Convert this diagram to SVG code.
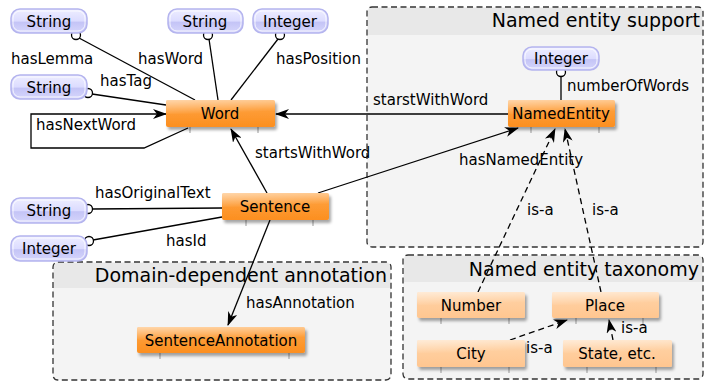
<svg xmlns="http://www.w3.org/2000/svg" width="715" height="381" viewBox="0 0 715 381">
<style>
text{font-family:"DejaVu Sans","Liberation Sans",sans-serif;font-size:15px;fill:#000}
.title{font-size:19px}
.nt{text-anchor:middle}
.grp{fill:#f4f4f4;stroke:#333;stroke-width:1.3;stroke-dasharray:6,3.5}
.hdr{fill:#e8e8e8}
.edge{fill:none;stroke:#000;stroke-width:1.3}
.dash{stroke-dasharray:6,4}
.circ{fill:#fff;stroke:#000;stroke-width:1.3}
.ob{fill:url(#og)}
.lb{fill:url(#lg)}
.hl{fill:url(#hg)}
.tick{stroke:#999;stroke-width:1}
.lit{fill:url(#litg);stroke:#b4b4ee;stroke-width:1.5}
.lit2{fill:none;stroke:#fff;stroke-width:1;opacity:.8}
</style>
<defs>
<linearGradient id="og" x1="0" y1="0" x2="0" y2="1"><stop offset="0" stop-color="#ffa545"/><stop offset="1" stop-color="#fc8f20"/></linearGradient>
<linearGradient id="lg" x1="0" y1="0" x2="0" y2="1"><stop offset="0" stop-color="#ffd4a8"/><stop offset="1" stop-color="#ffc690"/></linearGradient>
<linearGradient id="hg" x1="0" y1="0" x2="0.3" y2="1"><stop offset="0" stop-color="#fff" stop-opacity="0.55"/><stop offset="1" stop-color="#fff" stop-opacity="0"/></linearGradient>
<linearGradient id="litg" x1="0" y1="0" x2="0" y2="1"><stop offset="0" stop-color="#eeeeff"/><stop offset="0.5" stop-color="#dcdcff"/><stop offset="0.55" stop-color="#c4c4f6"/><stop offset="1" stop-color="#d6d6fc"/></linearGradient>
<filter id="sh" x="-10%" y="-20%" width="130%" height="160%"><feGaussianBlur in="SourceAlpha" stdDeviation="1.5"/><feOffset dx="2" dy="3"/><feComponentTransfer><feFuncA type="linear" slope="0.35"/></feComponentTransfer><feMerge><feMergeNode/><feMergeNode in="SourceGraphic"/></feMerge></filter>
<marker id="ar" viewBox="0 0 14 10" refX="13" refY="5" markerWidth="14" markerHeight="10" markerUnits="userSpaceOnUse" orient="auto"><path d="M0,0 L14,5 L0,10 L4,5 z" fill="#000"/></marker>
</defs>

<g id="group-ne-support">
<rect class="grp" x="367" y="7" width="336" height="240" rx="5"/>
<path class="hdr" d="M368,35 V12 a4,4 0 0 1 4,-4 H698 a4,4 0 0 1 4,4 V35 z"/>
<text class="title" x="700" y="27" text-anchor="end">Named entity support</text>
</g>
<g id="group-domain">
<rect class="grp" x="53" y="262" width="338" height="118" rx="5"/>
<path class="hdr" d="M54,288 V267 a4,4 0 0 1 4,-4 H386 a4,4 0 0 1 4,4 V288 z"/>
<text class="title" x="387" y="282" text-anchor="end">Domain-dependent annotation</text>
</g>
<g id="group-taxonomy">
<rect class="grp" x="403" y="255" width="300" height="124" rx="5"/>
<path class="hdr" d="M404,282 V260 a4,4 0 0 1 4,-4 H698 a4,4 0 0 1 4,4 V282 z"/>
<text class="title" x="699" y="276" text-anchor="end">Named entity taxonomy</text>
</g>

<g id="connectors">
<line class="edge" x1="79" y1="38" x2="195" y2="100"/>
<line class="edge" x1="209" y1="39" x2="218" y2="100"/>
<line class="edge" x1="278" y1="39" x2="231" y2="100"/>
<line class="edge" x1="92" y1="94" x2="166" y2="105"/>
<path class="edge" d="M188,128 L144,148 H31 V114 H166" marker-end="url(#ar)"/>
<line class="edge" x1="508" y1="114" x2="276" y2="114" marker-end="url(#ar)"/>
<line class="edge" x1="561" y1="76" x2="561" y2="100"/>
<line class="edge" x1="267" y1="193" x2="231" y2="129" marker-end="url(#ar)"/>
<line class="edge" x1="318" y1="193" x2="518" y2="128" marker-end="url(#ar)"/>
<line class="edge" x1="92" y1="209" x2="222" y2="208"/>
<line class="edge" x1="93" y1="240" x2="222" y2="217"/>
<line class="edge" x1="270" y1="220" x2="228" y2="325" marker-end="url(#ar)"/>
<line class="edge dash" x1="478" y1="292" x2="555" y2="129" marker-end="url(#ar)"/>
<line class="edge dash" x1="601" y1="292" x2="565" y2="129" marker-end="url(#ar)"/>
<line class="edge dash" x1="510" y1="340" x2="567" y2="320" marker-end="url(#ar)"/>
<line class="edge dash" x1="613" y1="340" x2="609" y2="320" marker-end="url(#ar)"/>
<circle class="circ" cx="76" cy="35" r="4.5"/>
<circle class="circ" cx="208" cy="35" r="4.5"/>
<circle class="circ" cx="280" cy="35" r="4.5"/>
<circle class="circ" cx="88" cy="93" r="4.5"/>
<circle class="circ" cx="561" cy="72" r="4.5"/>
<circle class="circ" cx="88" cy="209" r="4.5"/>
<circle class="circ" cx="89" cy="241" r="4.5"/>
<text x="11" y="64">hasLemma</text>
<text x="138" y="64">hasWord</text>
<text x="276" y="64">hasPosition</text>
<text x="100" y="86">hasTag</text>
<text x="36" y="130">hasNextWord</text>
<text x="373" y="105">starstWithWord</text>
<text x="567" y="91">numberOfWords</text>
<text x="255" y="158">startsWithWord</text>
<text x="459" y="165">hasNamedEntity</text>
<text x="527" y="215">is-a</text>
<text x="592" y="215">is-a</text>
<text x="95" y="198">hasOriginalText</text>
<text x="166" y="246">hasId</text>
<text x="246" y="308">hasAnnotation</text>
<text x="526" y="353">is-a</text>
<text x="621" y="333">is-a</text>
</g>

<g id="lit-string-lemma"><rect class="lit" x="11" y="9" width="76" height="24" rx="9"/><rect class="lit2" x="13" y="11" width="72" height="20" rx="7"/><text class="nt" x="49" y="27">String</text></g>
<g id="lit-string-word"><rect class="lit" x="168" y="9" width="75" height="24" rx="9"/><rect class="lit2" x="170" y="11" width="71" height="20" rx="7"/><text class="nt" x="205" y="27">String</text></g>
<g id="lit-integer-position"><rect class="lit" x="253" y="9" width="75" height="24" rx="9"/><rect class="lit2" x="255" y="11" width="71" height="20" rx="7"/><text class="nt" x="290" y="27">Integer</text></g>
<g id="lit-string-tag"><rect class="lit" x="11" y="75" width="76" height="24" rx="9"/><rect class="lit2" x="13" y="77" width="72" height="20" rx="7"/><text class="nt" x="49" y="93">String</text></g>
<g id="lit-integer-words"><rect class="lit" x="523" y="47" width="76" height="23" rx="9"/><rect class="lit2" x="525" y="49" width="72" height="19" rx="7"/><text class="nt" x="561" y="64">Integer</text></g>
<g id="lit-string-text"><rect class="lit" x="11" y="198" width="76" height="25" rx="9"/><rect class="lit2" x="13" y="200" width="72" height="21" rx="7"/><text class="nt" x="49" y="216">String</text></g>
<g id="lit-integer-id"><rect class="lit" x="11" y="236" width="76" height="25" rx="9"/><rect class="lit2" x="13" y="238" width="72" height="21" rx="7"/><text class="nt" x="49" y="254">Integer</text></g>

<g id="node-word"><line class="tick" x1="190" y1="127" x2="190" y2="133"/><line class="tick" x1="258" y1="127" x2="258" y2="133"/><rect class="ob" x="166" y="100" width="109" height="27" rx="2" filter="url(#sh)"/><rect class="hl" x="166" y="100" width="109" height="14" rx="2"/><text class="nt" x="220" y="119">Word</text></g>
<g id="node-namedentity"><line class="tick" x1="531" y1="127" x2="531" y2="133"/><line class="tick" x1="599" y1="127" x2="599" y2="133"/><rect class="ob" x="508" y="100" width="107" height="27" rx="2" filter="url(#sh)"/><rect class="hl" x="508" y="100" width="107" height="14" rx="2"/><text class="nt" x="561" y="119">NamedEntity</text></g>
<g id="node-sentence"><line class="tick" x1="246" y1="220" x2="246" y2="226"/><line class="tick" x1="313" y1="220" x2="313" y2="226"/><rect class="ob" x="222" y="193" width="107" height="27" rx="2" filter="url(#sh)"/><rect class="hl" x="222" y="193" width="107" height="14" rx="2"/><text class="nt" x="275" y="212">Sentence</text></g>
<g id="node-sentenceannotation"><line class="tick" x1="160" y1="353" x2="160" y2="359"/><line class="tick" x1="289" y1="353" x2="289" y2="359"/><rect class="ob" x="137" y="327" width="168" height="26" rx="2" filter="url(#sh)"/><rect class="hl" x="137" y="327" width="168" height="13" rx="2"/><text class="nt" x="221" y="345.5">SentenceAnnotation</text></g>
<g id="node-number"><line class="tick" x1="441" y1="318" x2="441" y2="324"/><line class="tick" x1="509" y1="318" x2="509" y2="324"/><rect class="lb" x="417" y="292" width="108" height="26" rx="2" filter="url(#sh)"/><rect class="hl" x="417" y="292" width="108" height="13" rx="2"/><text class="nt" x="471" y="310.5">Number</text></g>
<g id="node-place"><line class="tick" x1="576" y1="318" x2="576" y2="324"/><line class="tick" x1="643" y1="318" x2="643" y2="324"/><rect class="lb" x="552" y="292" width="107" height="26" rx="2" filter="url(#sh)"/><rect class="hl" x="552" y="292" width="107" height="13" rx="2"/><text class="nt" x="605" y="310.5">Place</text></g>
<g id="node-city"><line class="tick" x1="441" y1="367" x2="441" y2="373"/><line class="tick" x1="509" y1="367" x2="509" y2="373"/><rect class="lb" x="417" y="340" width="108" height="27" rx="2" filter="url(#sh)"/><rect class="hl" x="417" y="340" width="108" height="13" rx="2"/><text class="nt" x="471" y="359">City</text></g>
<g id="node-state"><line class="tick" x1="587" y1="367" x2="587" y2="373"/><line class="tick" x1="656" y1="367" x2="656" y2="373"/><rect class="lb" x="563" y="340" width="109" height="27" rx="2" filter="url(#sh)"/><rect class="hl" x="563" y="340" width="109" height="13" rx="2"/><text class="nt" x="617" y="359">State, etc.</text></g>
</svg>
